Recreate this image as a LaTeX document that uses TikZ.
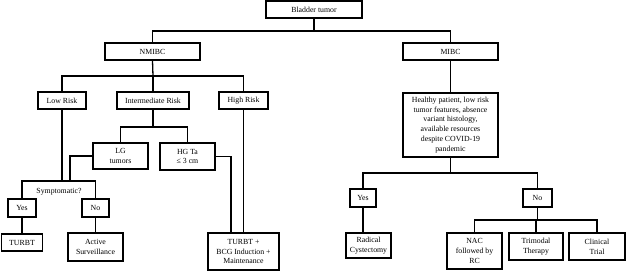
\documentclass[tikz,border=0pt]{standalone}
\usepackage{fontspec}
\setmainfont{Liberation Serif}
\begin{document}
\begin{tikzpicture}[x=1pt,y=-1pt,line width=1.3pt,
  box/.style={draw,inner sep=1pt,align=center,font=\fontsize{7.8}{9.9}\selectfont},
  lbl/.style={inner sep=1pt,font=\fontsize{7.8}{9.9}\selectfont}]
\useasboundingbox (0,0) rectangle (626,272);
% top levels
\node[box,minimum width=96,minimum height=17](bt) at (314,9.5){Bladder tumor};
\node[box,minimum width=95,minimum height=17](nmibc) at (152.5,51.5){NMIBC};
\node[box,minimum width=95,minimum height=17](mibc) at (450.5,51.5){MIBC};
% NMIBC branch
\node[box,minimum width=48,minimum height=17](low) at (62,100.5){Low Risk};
\node[box,minimum width=72,minimum height=17](inter) at (153,100.5){Intermediate Risk};
\node[box,minimum width=49,minimum height=17](high) at (243.5,100.5){High Risk};
\node[box,minimum width=55,minimum height=26](lg) at (120.5,156){LG\\tumors};
\node[box,minimum width=55,minimum height=27](hg) at (187.5,156.5){HG Ta\\≤ 3 cm};
\node[lbl](symp) at (59,192){Symptomatic?};
\node[box,minimum width=28,minimum height=18](yesA) at (22,208){Yes};
\node[box,minimum width=27,minimum height=18](noA) at (95.5,208){No};
\node[box,minimum width=41,minimum height=17](turbt) at (22,242.5){TURBT};
\node[box,minimum width=55,minimum height=28](surv) at (95.5,247){Active\\Surveillance};
\node[box,minimum width=71,minimum height=37](bcg) at (243.5,251.5){TURBT +\\BCG Induction +\\Maintenance};
% MIBC branch
\node[box,minimum width=95,minimum height=64](fit) at (450.5,125){Healthy patient, low risk\\tumor features, absence\\variant histology,\\available resources\\despite COVID-19\\pandemic};
\node[box,minimum width=26,minimum height=18](yesB) at (363,198){Yes};
\node[box,minimum width=29,minimum height=18](noB) at (537.5,198){No};
\node[box,minimum width=45,minimum height=25](rc) at (368.5,245.5){Radical\\Cystectomy};
\node[box,minimum width=55,minimum height=36](nac) at (474.5,251){NAC\\followed by\\RC};
\node[box,minimum width=54,minimum height=27](tri) at (536,246.5){Trimodal\\Therapy};
\node[box,minimum width=56,minimum height=27](trial) at (597,246.5){Clinical\\Trial};
% junctions
\coordinate(j1) at (314,31);
\coordinate(j2) at (153,76);
\coordinate(j3) at (153,127);
\coordinate(j4) at (62,181);
\coordinate(j5) at (70,181);
\coordinate(j6) at (450.5,173);
\coordinate(j7) at (537.5,220);
% connectors
\draw(bt.south)--(j1);
\draw(nmibc.north)|-(j1)-|(mibc.north);
\draw(nmibc.south)--(j2);
\draw(low.north)|-(j2)-|(high.north);
\draw(inter.north)--(j2);
\draw(inter.south)--(j3);
\draw(lg.north)|-(j3)-|(hg.north);
\draw(low.south)--(j4);
\draw(yesA.north)|-(j4)-|(noA.north);
\draw(lg.west)-|(j5);
\draw(hg.east)-|([xshift=-12.5pt]bcg.north);
\draw(high.south)--(bcg.north);
\draw(mibc.south)--(fit.north);
\draw(fit.south)--(j6);
\draw(yesB.north)|-(j6)-|(noB.north);
\draw(noB.south)--(j7);
\draw(nac.north)|-(j7)-|(trial.north);
\draw(tri.north)--(tri.north|-j7);
\foreach \a/\b in {yesA/turbt,noA/surv,yesB/rc}
{
    \draw(\a.south)--(\a.south|-\b.north);
}
\end{tikzpicture}
\end{document}
